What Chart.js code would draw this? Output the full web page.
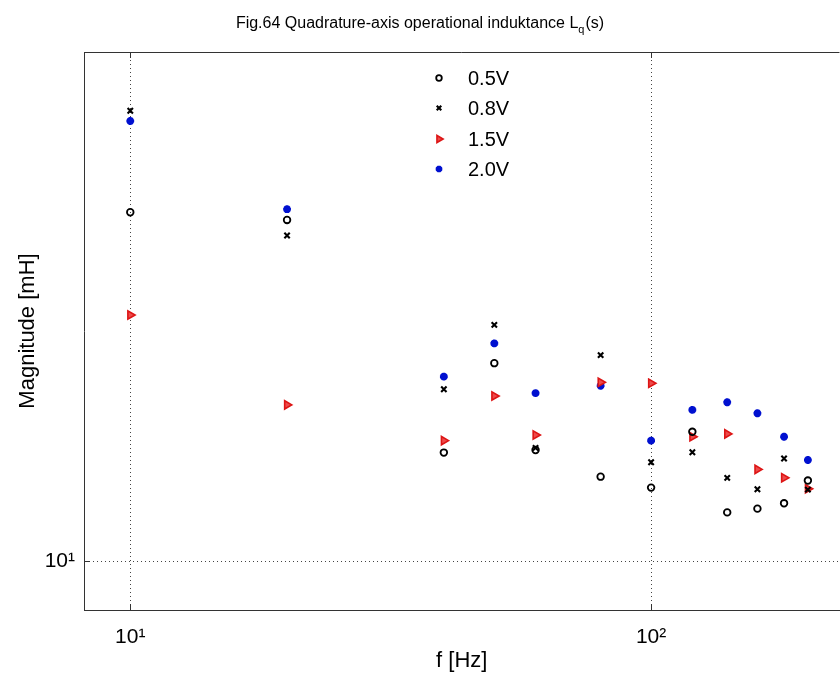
<!DOCTYPE html>
<html>
<head>
<meta charset="utf-8">
<script src="https://cdn.jsdelivr.net/npm/chart.js@4.4.1/dist/chart.umd.min.js"></script>
<style>
  html, body { margin: 0; padding: 0; background: #fff; overflow: hidden; }
  #wrap { width: 840px; height: 680px; overflow: hidden; }
</style>
</head>
<body>
<div id="wrap"><canvas id="c" width="846" height="680"></canvas></div>
<script>
// ---- data ----
const freqs = [10, 20, 40, 50, 60, 80, 100, 120, 140, 160, 180, 200];
const v05 = [21.23, 20.88, 12.64, 15.33, 12.71, 12.00, 11.72, 13.22, 11.11, 11.20, 11.33, 11.90];
const v08 = [26.43, 20.19, 14.49, 16.65, 12.77, 15.60, 12.38, 12.65, 11.97, 11.68, 12.48, 11.67];
const v15 = [17.01, 14.01, 12.97, 14.28, 13.13, 14.71, 14.68, 13.08, 13.16, 12.19, 11.97, 11.69];
const v20 = [25.85, 21.37, 14.89, 16.00, 14.37, 14.60, 12.97, 13.86, 14.09, 13.76, 13.08, 12.44];
const seriesLabels = ['0.5V', '0.8V', '1.5V', '2.0V'];
const xTickValues = [10, 100];
const xTickLabels = ['10\u00B9', '10\u00B2'];
const yTickValues = [10];
const yTickLabels = ['10\u00B9'];
const titleMain = 'Fig.64 Quadrature-axis operational induktance L';
const titleSub = 'q';
const titleEnd = '(s)';
const xTitle = 'f [Hz]';
const yTitle = 'Magnitude [mH]';

const FONT = '"Liberation Sans", Arial, sans-serif';
const toPts = (arr) => freqs.map((f, i) => ({ x: f, y: arr[i] }));

const datasets = [
  { label: seriesLabels[0], data: toPts(v05), pointStyle: 'circle', pointRadius: 3.3,
    borderColor: '#000', backgroundColor: 'rgba(0,0,0,0)', pointBorderWidth: 1.8 },
  { label: seriesLabels[1], data: toPts(v08), pointStyle: 'crossRot', pointRadius: 3.8,
    borderColor: '#000', backgroundColor: '#000', pointBorderWidth: 2.1 },
  { label: seriesLabels[2], data: toPts(v15), pointStyle: 'triangle', pointRotation: 90, pointRadius: 4.8,
    borderColor: '#dd1515', backgroundColor: '#ee4a4a', pointBorderWidth: 1.6 },
  { label: seriesLabels[3], data: toPts(v20), pointStyle: 'star', pointRadius: 3.9,
    borderColor: '#0010d0', backgroundColor: '#0010d0', pointBorderWidth: 2.6 }
];
datasets.forEach(d => { d.showLine = false; d.pointHoverRadius = d.pointRadius; });

const decorPlugin = {
  id: 'decor',
  afterDraw(chart) {
    const ctx = chart.ctx;
    const ca = chart.chartArea;
    const xs = chart.scales.x;
    ctx.save();
    // top frame line
    ctx.strokeStyle = '#333';
    ctx.lineWidth = 1;
    ctx.beginPath();
    ctx.moveTo(ca.left, ca.top + 0.5);
    ctx.lineTo(ca.right, ca.top + 0.5);
    ctx.stroke();
    // inward tick marks (top & bottom)
    xTickValues.forEach(v => {
      const px = Math.round(xs.getPixelForValue(v)) + 0.5;
      ctx.beginPath();
      ctx.moveTo(px, ca.top); ctx.lineTo(px, ca.top + 6);
      ctx.moveTo(px, ca.bottom); ctx.lineTo(px, ca.bottom - 6);
      ctx.stroke();
    });
    const ys = chart.scales.y;
    yTickValues.forEach(v => {
      const py = Math.round(ys.getPixelForValue(v)) + 0.5;
      ctx.beginPath();
      ctx.moveTo(ca.left, py); ctx.lineTo(ca.left + 6, py);
      ctx.stroke();
    });

    // title with subscript
    ctx.fillStyle = '#000';
    ctx.textBaseline = 'alphabetic';
    ctx.textAlign = 'left';
    const fMain = '16px ' + FONT, fSub = '11px ' + FONT;
    ctx.font = fMain;
    const w1 = ctx.measureText(titleMain).width;
    const w3 = ctx.measureText(titleEnd).width;
    ctx.font = fSub;
    const w2 = ctx.measureText(titleSub).width;
    const total = w1 + w2 + 1 + w3;
    let tx = 420 - total / 2;
    const ty = 28;
    ctx.font = fMain; ctx.fillText(titleMain, tx, ty); tx += w1;
    ctx.font = fSub; ctx.fillText(titleSub, tx, ty + 5); tx += w2 + 1;
    ctx.font = fMain; ctx.fillText(titleEnd, tx, ty);

    // legend inside the plot (no box)
    const rows = [78, 108, 139, 169];
    const mx = 439, lx = 468;
    ctx.font = '20px ' + FONT;
    ctx.textBaseline = 'middle';
    chart.data.datasets.forEach((ds, i) => {
      const opts = {
        pointStyle: ds.pointStyle,
        rotation: ds.pointRotation || 0,
        radius: ds.pointRadius * 0.85,
        borderWidth: ds.pointBorderWidth
      };
      ctx.strokeStyle = ds.borderColor;
      ctx.fillStyle = ds.backgroundColor;
      ctx.lineWidth = ds.pointBorderWidth;
      if (Chart.helpers && Chart.helpers.drawPoint) {
        Chart.helpers.drawPoint(ctx, opts, mx, rows[i]);
      }
      ctx.fillStyle = '#000';
      ctx.fillText(ds.label, lx, rows[i] + 1);
    });
    ctx.restore();
  }
};

new Chart(document.getElementById('c'), {
  type: 'scatter',
  data: { datasets },
  plugins: [decorPlugin],
  options: {
    responsive: false,
    animation: false,
    devicePixelRatio: 1,
    layout: { padding: { top: 52, right: 0, bottom: 0, left: 0 } },
    plugins: { legend: { display: false }, tooltip: { enabled: false }, title: { display: false } },
    scales: {
      x: {
        type: 'logarithmic',
        min: 8.15,
        max: 230,
        afterFit: (s) => { s.height = 70; },
        afterBuildTicks: (s) => { s.ticks = xTickValues.map(v => ({ value: v, major: true })); },
        ticks: {
          autoSkip: false, maxRotation: 0, padding: 15,
          color: '#000', font: { family: FONT, size: 21 },
          callback: (v) => { const i = xTickValues.indexOf(v); return i >= 0 ? xTickLabels[i] : ''; }
        },
        grid: { color: '#444', lineWidth: 1, drawTicks: false },
        border: { display: true, color: '#333', width: 1, dash: [1, 3] },
        title: { display: true, text: xTitle, color: '#000', font: { family: FONT, size: 22 }, padding: { top: 0, bottom: 6 } }
      },
      y: {
        type: 'logarithmic',
        min: 9,
        max: 30,
        afterFit: (s) => { s.width = 84; },
        afterBuildTicks: (s) => { s.ticks = yTickValues.map(v => ({ value: v, major: true })); },
        ticks: {
          autoSkip: false, padding: 9,
          color: '#000', font: { family: FONT, size: 21 },
          callback: (v) => { const i = yTickValues.indexOf(v); return i >= 0 ? yTickLabels[i] : ''; }
        },
        grid: { color: '#444', lineWidth: 1, drawTicks: false },
        border: { display: true, color: '#333', width: 1, dash: [1, 3] },
        title: { display: true, text: yTitle, color: '#000', font: { family: FONT, size: 22 }, padding: { top: 15, bottom: 0 } }
      }
    }
  }
});
</script>
</body>
</html>
